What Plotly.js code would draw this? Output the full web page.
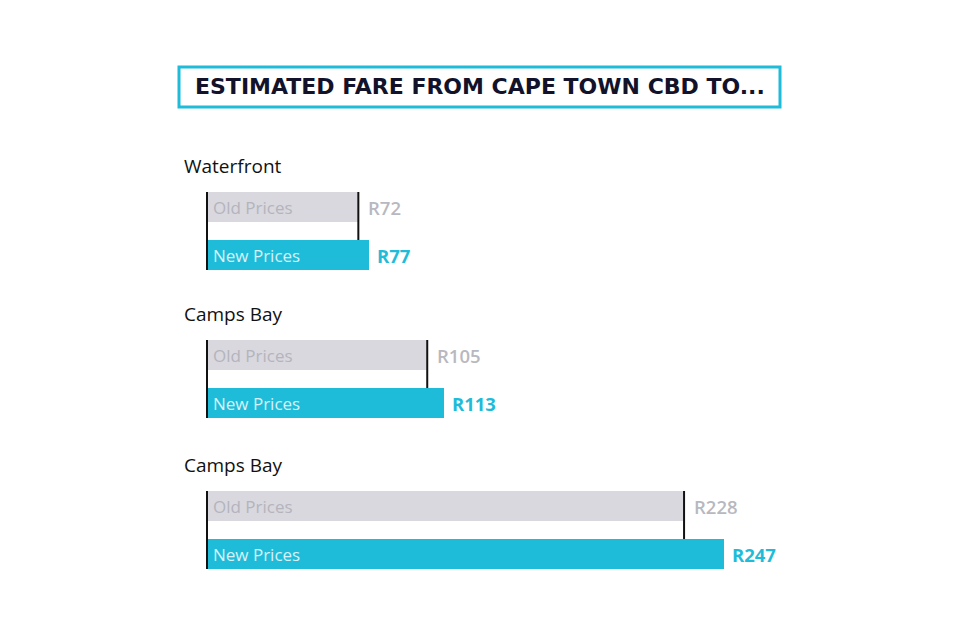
<!DOCTYPE html>
<html><head><meta charset="utf-8">
<script src="https://cdn.plot.ly/plotly-3.0.1.min.js"></script>
<style>html,body{margin:0;padding:0;background:#fff}#c{width:960px;height:630px}</style>
</head><body><div id="c"></div>
<script>
const destinations = ["Waterfront", "Camps Bay", "Camps Bay"];
const seriesNames = ["Old Prices", "New Prices"];
const oldPrices = [72, 105, 228];
const newPrices = [77, 113, 247];
const titleText = "ESTIMATED FARE FROM CAPE TOWN CBD TO...";

const W = 960, H = 630;
const OLD = "#d9d8df", NEW = "#1fbcd9";
const groupTops = [192, 340, 491];   // pixel tops of each group
const groupBottoms = [270, 418, 569];
const x0px = 208, xScale = 2.088, xRightPx = 940;
const xMax = (xRightPx - x0px) / xScale;
const py = p => 1 - p / H;
const half = 0.3125;

const data = [], shapes = [], annotations = [];
const layout = {
  width: W, height: H, margin: {l: 0, r: 0, t: 0, b: 0},
  paper_bgcolor: "#fff", plot_bgcolor: "rgba(0,0,0,0)",
  showlegend: false, bargap: 0,
  font: {family: "Open Sans, Noto Sans, sans-serif"}
};

destinations.forEach((d, i) => {
  const n = i + 1;
  const xa = n === 1 ? "x" : "x" + n, ya = n === 1 ? "y" : "y" + n;
  const xk = n === 1 ? "xaxis" : "xaxis" + n, yk = n === 1 ? "yaxis" : "yaxis" + n;
  layout[xk] = {domain: [x0px / W, xRightPx / W], range: [0, xMax], visible: false, fixedrange: true, anchor: ya};
  layout[yk] = {domain: [py(groupBottoms[i]), py(groupTops[i])], range: [1 + half, -half],
    showline: true, linecolor: "#111", linewidth: 2, showticklabels: false, showgrid: false,
    zeroline: false, ticks: "", anchor: xa, fixedrange: true};
  data.push({type: "bar", orientation: "h", x: [oldPrices[i], newPrices[i]], y: [0, 1],
    width: 2 * half, marker: {color: [OLD, NEW]}, xaxis: xa, yaxis: ya, hoverinfo: "none"});
  shapes.push({type: "line", xref: xa, yref: ya, x0: oldPrices[i], x1: oldPrices[i],
    y0: -half, y1: 1 - half, line: {color: "#111", width: 2}});
  annotations.push({xref: "paper", yref: ya + " domain", x: 182 / W, y: 1, yshift: 26,
    xanchor: "left", yanchor: "middle", text: d, showarrow: false,
    font: {size: 19, color: "#111"}});
  annotations.push({xref: xa, yref: ya, x: 0, y: 0, xanchor: "left", yanchor: "middle", xshift: 3,
    text: seriesNames[0], showarrow: false, font: {size: 17, color: "#b4b4bc"}});
  annotations.push({xref: xa, yref: ya, x: 0, y: 1, xanchor: "left", yanchor: "middle", xshift: 3,
    text: seriesNames[1], showarrow: false, font: {size: 17, color: "#d6f2f8"}});
  annotations.push({xref: xa, yref: ya, x: oldPrices[i], y: 0, xanchor: "left", yanchor: "middle", xshift: 8,
    text: "R" + oldPrices[i], showarrow: false, font: {size: 18.5, color: "#b8b8c0", weight: 600}});
  annotations.push({xref: xa, yref: ya, x: newPrices[i], y: 1, xanchor: "left", yanchor: "middle", xshift: 6,
    text: "R" + newPrices[i], showarrow: false, font: {size: 18.5, color: NEW, weight: 700}});
});

shapes.push({type: "rect", xref: "paper", yref: "paper", x0: 179 / W, x1: 780 / W, y0: py(107), y1: py(67),
  line: {color: NEW, width: 3}, fillcolor: "rgba(0,0,0,0)"});
annotations.push({xref: "paper", yref: "paper", x: 480 / W, y: py(87), xanchor: "center", yanchor: "middle",
  text: titleText, showarrow: false,
  font: {size: 22, color: "#12122a", family: "DejaVu Sans, sans-serif", weight: 700}});

layout.shapes = shapes;
layout.annotations = annotations;
Plotly.newPlot("c", data, layout, {displayModeBar: false, staticPlot: true});
</script></body></html>
